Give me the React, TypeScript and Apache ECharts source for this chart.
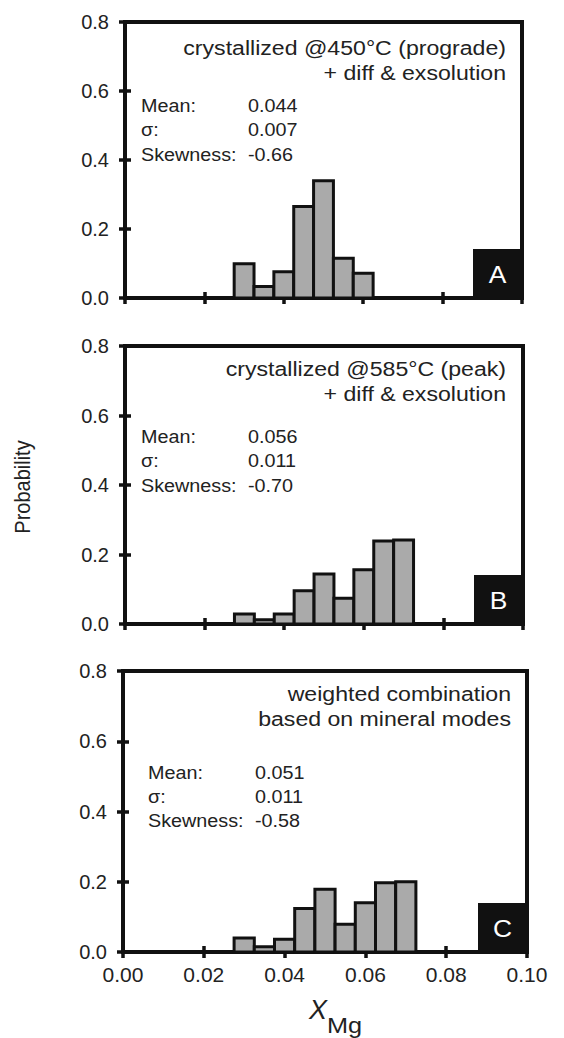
import React, { useEffect, useRef } from "react";
import * as echarts from "echarts";

// ---- data ----
const binCenters = [0.03, 0.035, 0.04, 0.045, 0.05, 0.055, 0.06, 0.065, 0.07];
const binWidth = 0.005;
const probA = [0.099, 0.033, 0.076, 0.265, 0.34, 0.115, 0.072];
const probB = [0.029, 0.012, 0.029, 0.096, 0.144, 0.074, 0.156, 0.239, 0.242];
const probC = [0.04, 0.015, 0.036, 0.124, 0.179, 0.079, 0.14, 0.197, 0.2];
const panelLetters = ["A", "B", "C"];
const titleLines = [
  ["crystallized @450°C (prograde)", "+ diff & exsolution"],
  ["crystallized @585°C (peak)", "+ diff & exsolution"],
  ["weighted combination", "based on mineral modes"],
];
const statNames = ["Mean:", "σ:", "Skewness:"];
const statValues = [
  ["0.044", "0.007", "-0.66"],
  ["0.056", "0.011", "-0.70"],
  ["0.051", "0.011", "-0.58"],
];
const yAxisTitle = "Probability";
const xAxisTitleMain = "X";
const xAxisTitleSub = "Mg";

const FONT = "'Liberation Sans', Arial, Helvetica, sans-serif";
const INK = "#111";
const TXT = "#222";

const grids = [
  { left: 125, top: 22, width: 397, height: 276 },
  { left: 125, top: 346, width: 398, height: 278 },
  { left: 123, top: 671, width: 404, height: 281 },
];
const titleRight = [506, 506, 511];
const titleY = [[48, 73], [369, 394], [694, 719]];
const statX = [[141, 248], [141, 248], [148, 255]];
const statY = [[106, 130, 155], [437, 461, 486], [773, 797, 821]];

export default function App() {
  const ref = useRef<HTMLDivElement>(null);
  useEffect(() => {
    document.body.style.margin = "0";
    const chart = echarts.init(ref.current!, null, { renderer: "svg" });
    const probs = [probA, probB, probC];
    const xAxes: any[] = [];
    const yAxes: any[] = [];
    const series: any[] = [];
    const graphic: any[] = [];
    grids.forEach((g, i) => {
      const tick = { show: true, inside: true, length: 6, lineStyle: { width: 3.5, color: INK } };
      xAxes.push({
        type: "value", gridIndex: i, position: "bottom", min: 0, max: 0.1, interval: 0.02,
        axisLine: { show: false }, axisTick: tick, splitLine: { show: false },
        axisLabel: {
          show: i === 2, margin: 12, fontSize: 21, color: TXT, fontFamily: FONT,
          formatter: (v: number) => v.toFixed(2),
        },
      });
      xAxes.push({
        type: "value", gridIndex: i, position: "top", min: 0, max: 0.1, interval: 0.02,
        axisLine: { show: false }, axisTick: tick, splitLine: { show: false },
        axisLabel: { show: false },
      });
      yAxes.push({
        type: "value", gridIndex: i, position: "left", min: 0, max: 0.8, interval: 0.2,
        axisLine: { show: false }, axisTick: tick, splitLine: { show: false },
        axisLabel: {
          margin: 16, fontSize: 20, color: TXT, fontFamily: FONT,
          formatter: (v: number) => v.toFixed(1),
        },
      });
      yAxes.push({
        type: "value", gridIndex: i, position: "right", min: 0, max: 0.8, interval: 0.2,
        axisLine: { show: false }, axisTick: tick, splitLine: { show: false },
        axisLabel: { show: false },
      });
      series.push({
        type: "custom",
        xAxisIndex: i * 2,
        yAxisIndex: i * 2,
        data: probs[i].map((v, k) => [binCenters[k], v]),
        renderItem: (params: any, api: any) => {
          const c = api.value(0);
          const v = api.value(1);
          const p0 = api.coord([c - binWidth / 2, v]);
          const p1 = api.coord([c + binWidth / 2, 0]);
          return {
            type: "rect",
            shape: { x: p0[0], y: p0[1], width: p1[0] - p0[0], height: p1[1] - p0[1] },
            style: { fill: "#aaaaaa", stroke: INK, lineWidth: 3 },
          };
        },
      });
      titleLines[i].forEach((t, k) => {
        graphic.push({
          type: "text", x: titleRight[i], y: titleY[i][k], scaleX: 1.1, z: 50,
          style: { text: t, fill: TXT, font: `21px ${FONT}`, textAlign: "right", textVerticalAlign: "middle" },
        });
      });
      statNames.forEach((n, k) => {
        graphic.push({
          type: "text", x: statX[i][0], y: statY[i][k], scaleX: 1.13, z: 50,
          style: { text: n, fill: TXT, font: `17.5px ${FONT}`, textAlign: "left", textVerticalAlign: "middle" },
        });
        graphic.push({
          type: "text", x: statX[i][1], y: statY[i][k], scaleX: 1.13, z: 50,
          style: { text: statValues[i][k], fill: TXT, font: `17.5px ${FONT}`, textAlign: "left", textVerticalAlign: "middle" },
        });
      });
      const bx = g.left + g.width - 49;
      const by = g.top + g.height - 49;
      graphic.push({
        type: "rect", z: 60,
        shape: { x: bx, y: by, width: 49, height: 49 },
        style: { fill: INK },
      });
      graphic.push({
        type: "text", x: bx + 24.5, y: by + 25, z: 61, scaleX: 1.1,
        style: { text: panelLetters[i], fill: "#fff", font: `24px ${FONT}`, textAlign: "center", textVerticalAlign: "middle" },
      });
    });
    graphic.push({
      type: "text", x: 22, y: 487, rotation: Math.PI / 2, z: 50, scaleY: 1.1,
      style: { text: yAxisTitle, fill: TXT, font: `20px ${FONT}`, textAlign: "center", textVerticalAlign: "middle" },
    });
    graphic.push({
      type: "text", x: 327, y: 1010, z: 50,
      style: { text: xAxisTitleMain, fill: TXT, font: `italic 27px ${FONT}`, textAlign: "right", textVerticalAlign: "middle" },
    });
    graphic.push({
      type: "text", x: 327, y: 1026, z: 50, scaleX: 1.15,
      style: { text: xAxisTitleSub, fill: TXT, font: `22px ${FONT}`, textAlign: "left", textVerticalAlign: "middle" },
    });

    chart.setOption({
      animation: false,
      backgroundColor: "#fff",
      grid: grids.map((g) => ({ ...g, show: true, borderColor: INK, borderWidth: 4, backgroundColor: "transparent" })),
      xAxis: xAxes,
      yAxis: yAxes,
      series,
      graphic,
    });
    return () => chart.dispose();
  }, []);
  return <div ref={ref} style={{ width: 564, height: 1038 }} />;
}
